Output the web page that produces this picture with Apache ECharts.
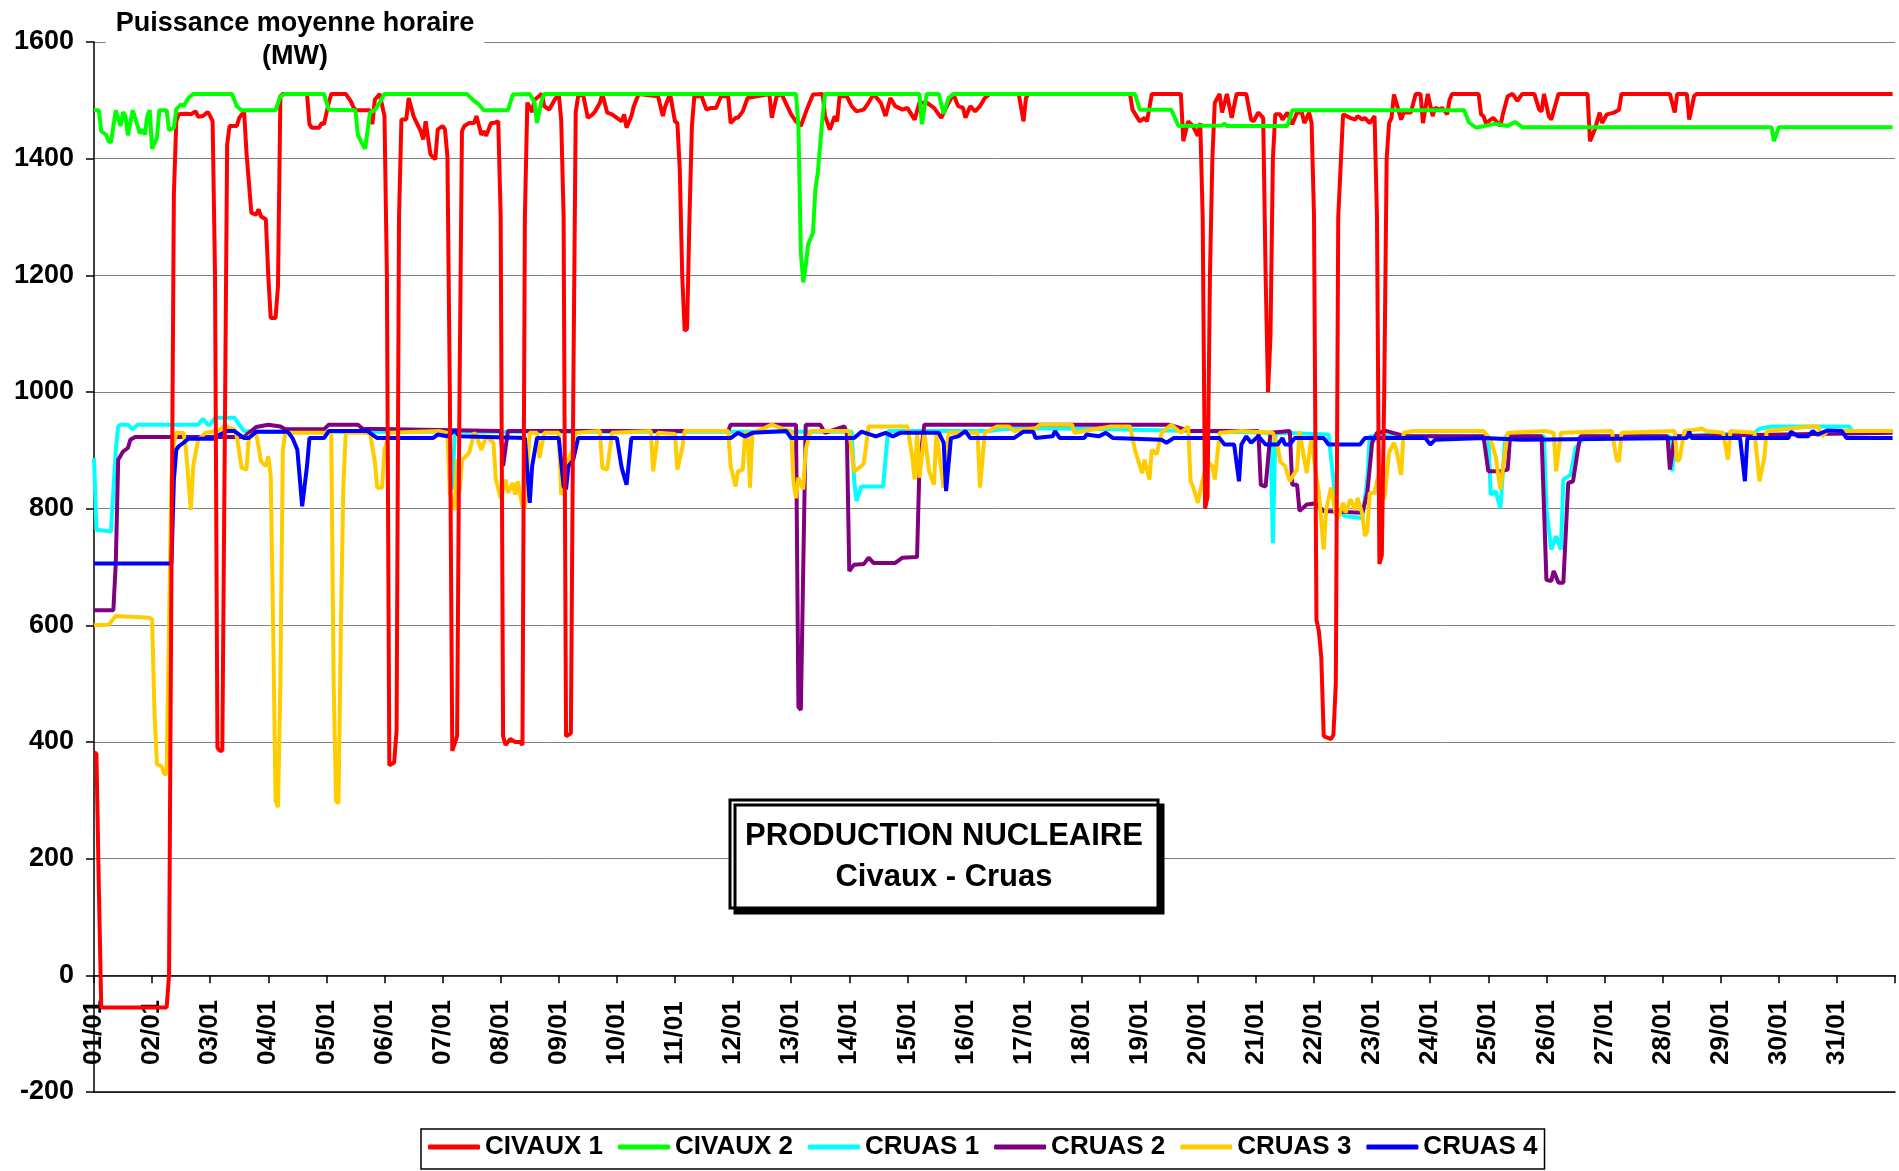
<!DOCTYPE html>
<html>
<head>
<meta charset="utf-8">
<script src="https://cdn.jsdelivr.net/npm/echarts@6/dist/echarts.min.js"></script>
<style>
html,body{margin:0;padding:0;background:#fff;}
#chart{width:1899px;height:1171px;}
</style>
</head>
<body>
<div id="chart"></div>
<script>
// Day labels (one per 24 hourly points)
const dayLabels = ['01/01','02/01','03/01','04/01','05/01','06/01','07/01','08/01','09/01','10/01',
  '11/01','12/01','13/01','14/01','15/01','16/01','17/01','18/01','19/01','20/01',
  '21/01','22/01','23/01','24/01','25/01','26/01','27/01','28/01','29/01','30/01','31/01'];

// [hour of month, MW] – readings at the points where the curves change
const civaux1 = [[0,382],[1,380],[2,150],[3,-55],[30,-55],[31,0],[32,700],[33,1340],[34,1464],[35,1476],[38,1477],[40,1476],[42,1481],[43,1472],[45,1473],[47,1480],[48,1473],[49,1464],[50,1200],[51,390],[52,385],[53,385],[54,900],[55,1424],[56,1456],[59,1456],[60,1470],[62,1481],[63,1410],[65,1307],[67,1304],[68,1313],[69,1301],[71,1296],[72,1199],[73,1127],[75,1127],[76,1181],[77,1507],[78,1511],[88,1511],[89,1459],[90,1453],[93,1453],[94,1461],[95,1459],[97,1496],[98,1511],[104,1511],[106,1499],[107,1490],[108,1483],[114,1483],[115,1459],[116,1501],[118,1511],[120,1473],[121,1200],[122,360],[124,365],[125,420],[126,1300],[127,1467],[129,1467],[130,1504],[132,1473],[133,1464],[135,1447],[136,1433],[137,1464],[139,1407],[141,1399],[142,1450],[144,1456],[145,1450],[146,1404],[147,1000],[148,385],[150,410],[151,1000],[152,1447],[153,1456],[155,1461],[157,1461],[158,1473],[160,1441],[161,1447],[162,1439],[164,1461],[165,1461],[167,1464],[168,1300],[169,410],[170,395],[172,405],[174,400],[176,400],[177,395],[178,1300],[179,1496],[181,1480],[182,1501],[185,1511],[186,1490],[188,1484],[190,1499],[192,1511],[193,1467],[194,1300],[195,410],[197,415],[198,1000],[199,1480],[200,1507],[202,1511],[204,1470],[206,1476],[207,1481],[209,1496],[210,1511],[212,1479],[214,1476],[216,1470],[218,1464],[219,1476],[220,1453],[222,1473],[223,1490],[225,1511],[233,1507],[235,1473],[236,1490],[238,1511],[240,1464],[241,1461],[242,1381],[243,1200],[244,1105],[245,1108],[246,1300],[247,1456],[248,1507],[251,1507],[253,1484],[255,1487],[257,1487],[259,1507],[262,1507],[263,1461],[265,1470],[266,1470],[268,1481],[270,1504],[279,1511],[280,1470],[282,1507],[284,1511],[288,1476],[290,1464],[292,1456],[294,1479],[295,1490],[297,1510],[301,1511],[302,1473],[304,1450],[306,1473],[307,1464],[308,1507],[311,1507],[313,1490],[315,1481],[318,1484],[320,1496],[322,1511],[325,1496],[327,1473],[329,1504],[331,1490],[334,1484],[336,1487],[339,1467],[341,1496],[344,1496],[347,1487],[350,1470],[352,1487],[355,1511],[357,1490],[359,1487],[360,1470],[362,1490],[364,1481],[366,1490],[368,1504],[370,1511],[382,1511],[384,1464],[385,1504],[386,1511],[428,1511],[429,1484],[432,1464],[434,1470],[435,1464],[437,1511],[449,1511],[450,1430],[452,1464],[454,1456],[456,1439],[457,1461],[458,1300],[459,800],[460,820],[461,1200],[462,1400],[463,1496],[465,1511],[466,1479],[468,1511],[470,1470],[472,1511],[476,1511],[478,1467],[479,1464],[481,1479],[483,1470],[484,1200],[485,1000],[486,1095],[487,1400],[488,1476],[490,1476],[491,1467],[493,1479],[495,1459],[497,1479],[499,1479],[500,1461],[502,1479],[503,1461],[504,1300],[505,610],[506,590],[507,545],[508,410],[511,405],[512,412],[513,500],[514,1300],[516,1476],[519,1470],[521,1467],[522,1473],[524,1467],[525,1470],[527,1461],[529,1473],[530,1300],[531,705],[532,720],[533,1000],[534,1400],[535,1461],[536,1470],[537,1510],[538,1496],[540,1467],[541,1479],[544,1479],[546,1511],[548,1511],[549,1461],[551,1511],[553,1473],[554,1487],[556,1484],[557,1487],[559,1476],[560,1501],[561,1511],[572,1511],[573,1476],[574,1473],[575,1461],[577,1467],[578,1470],[581,1456],[582,1476],[584,1507],[586,1511],[588,1499],[590,1511],[595,1511],[597,1484],[598,1481],[599,1511],[601,1473],[602,1467],[605,1511],[617,1511],[618,1430],[620,1450],[622,1479],[623,1461],[625,1476],[628,1479],[630,1484],[631,1511],[651,1511],[653,1479],[654,1511],[658,1511],[659,1467],[661,1507],[662,1511],[743,1511]];

const civaux2 = [[0,1483],[2,1483],[3,1447],[5,1441],[6,1430],[7,1428],[9,1483],[11,1456],[12,1480],[13,1473],[14,1440],[16,1483],[19,1443],[20,1450],[21,1441],[22,1472],[23,1483],[24,1417],[26,1436],[27,1483],[30,1483],[31,1449],[33,1453],[34,1485],[36,1493],[37,1490],[39,1504],[41,1511],[57,1511],[59,1490],[61,1483],[75,1483],[77,1507],[79,1511],[95,1511],[97,1484],[108,1483],[109,1441],[111,1424],[112,1417],[114,1479],[116,1483],[118,1496],[120,1511],[154,1511],[157,1499],[159,1493],[161,1483],[171,1483],[173,1510],[180,1511],[182,1496],[183,1461],[185,1501],[186,1511],[290,1511],[291,1456],[292,1239],[293,1188],[294,1216],[295,1253],[297,1273],[298,1347],[299,1376],[301,1473],[302,1511],[341,1511],[342,1459],[344,1511],[349,1511],[351,1477],[353,1504],[355,1511],[430,1511],[432,1484],[445,1484],[448,1456],[466,1457],[467,1460],[468,1456],[493,1456],[495,1483],[566,1483],[568,1462],[569,1459],[571,1453],[579,1460],[584,1456],[587,1463],[590,1454],[693,1454],[694,1430],[696,1454],[743,1454]];

const cruas1 = [[0,887],[1,764],[7,761],[9,900],[10,941],[11,944],[14,944],[16,936],[18,944],[43,944],[45,954],[47,944],[48,944],[50,956],[58,956],[60,944],[62,933],[70,932],[146,932],[147,880],[148,833],[149,925],[150,932],[313,932],[314,850],[315,813],[317,838],[326,838],[328,933],[370,933],[375,936],[390,938],[420,936],[486,930],[487,741],[488,925],[489,930],[510,927],[512,850],[513,798],[517,787],[524,784],[526,850],[527,924],[576,924],[577,824],[579,830],[581,801],[583,924],[599,924],[600,800],[602,730],[604,753],[606,730],[607,850],[610,858],[612,904],[616,924],[651,924],[652,864],[653,924],[686,930],[688,937],[693,941],[725,941],[727,930],[743,933]];

const cruas2 = [[0,626],[8,626],[9,707],[10,884],[12,898],[14,904],[15,918],[17,923],[62,923],[64,930],[67,940],[72,944],[77,941],[79,936],[95,936],[97,944],[109,944],[111,937],[168,933],[169,873],[171,933],[262,933],[263,944],[290,944],[291,460],[292,455],[293,700],[294,944],[300,944],[302,930],[310,941],[311,930],[312,693],[314,704],[318,705],[320,716],[322,707],[331,707],[334,716],[340,717],[341,873],[343,944],[444,944],[453,933],[481,933],[482,841],[484,838],[486,930],[494,933],[495,841],[497,841],[498,796],[501,807],[504,809],[506,804],[508,796],[524,793],[526,827],[528,913],[530,930],[534,933],[542,924],[574,924],[576,864],[581,864],[584,867],[585,924],[598,924],[600,678],[602,676],[603,693],[605,673],[607,673],[609,844],[611,847],[613,901],[614,924],[650,924],[651,867],[653,924],[743,930]];

const cruas3 = [[0,600],[6,601],[9,616],[23,613],[24,610],[25,450],[26,362],[28,358],[29,345],[30,345],[31,600],[32,850],[33,913],[34,930],[37,930],[38,901],[40,798],[41,873],[43,918],[46,930],[51,933],[54,941],[58,936],[59,924],[61,870],[63,867],[64,924],[67,930],[69,881],[71,873],[72,890],[73,856],[74,600],[75,300],[76,288],[77,500],[78,900],[79,930],[98,930],[99,500],[100,298],[101,295],[102,600],[103,838],[104,930],[114,930],[116,881],[117,836],[119,836],[120,901],[122,930],[143,933],[146,930],[147,827],[149,798],[150,884],[151,827],[152,884],[153,887],[155,896],[157,930],[158,925],[160,901],[162,924],[165,913],[166,850],[168,818],[170,850],[171,827],[173,844],[174,824],[175,847],[177,804],[178,801],[180,930],[183,930],[184,887],[186,930],[192,930],[193,824],[194,833],[196,884],[198,904],[199,930],[209,933],[210,870],[212,867],[214,930],[230,933],[231,864],[233,930],[240,928],[241,867],[243,904],[244,933],[262,933],[263,873],[265,838],[266,864],[268,867],[269,930],[270,930],[271,836],[272,930],[277,938],[280,944],[285,936],[288,933],[289,844],[290,818],[291,853],[293,833],[294,901],[296,933],[312,933],[314,864],[315,867],[317,873],[318,878],[320,941],[336,941],[338,890],[339,850],[340,930],[341,853],[343,930],[345,864],[347,841],[348,930],[351,836],[353,930],[365,930],[366,836],[368,930],[373,941],[378,941],[380,933],[389,938],[391,944],[404,944],[405,930],[420,941],[428,941],[430,901],[433,861],[434,884],[436,850],[437,901],[439,893],[441,930],[445,944],[449,930],[452,941],[453,847],[454,838],[456,810],[458,850],[460,881],[462,873],[463,850],[465,930],[474,933],[487,930],[489,907],[490,881],[492,873],[494,847],[496,861],[497,867],[498,933],[500,884],[501,861],[503,924],[504,884],[506,827],[508,730],[509,798],[511,836],[513,790],[514,784],[516,810],[517,793],[519,816],[521,798],[522,818],[524,790],[525,753],[526,761],[527,827],[529,827],[530,847],[532,876],[533,816],[535,896],[537,913],[538,901],[540,858],[541,930],[545,933],[574,933],[577,918],[579,890],[581,833],[582,867],[584,930],[600,933],[603,930],[604,864],[606,930],[627,933],[629,884],[630,881],[631,930],[653,933],[654,881],[655,885],[657,933],[663,936],[664,938],[666,933],[673,930],[675,884],[676,933],[686,930],[688,847],[690,887],[691,933],[709,941],[712,941],[714,924],[716,933],[743,933]];

const cruas4 = [[0,706],[32,706],[33,850],[34,901],[35,907],[37,913],[39,920],[50,920],[52,927],[55,933],[58,933],[62,921],[64,921],[67,932],[80,932],[82,921],[84,901],[86,804],[88,873],[89,921],[95,921],[97,933],[113,933],[117,921],[140,921],[142,927],[146,924],[149,934],[151,924],[178,921],[180,810],[181,873],[183,921],[192,921],[194,838],[195,833],[196,873],[198,884],[200,921],[216,921],[218,870],[220,841],[222,921],[263,921],[266,930],[269,924],[272,930],[286,933],[288,921],[314,921],[317,932],[323,924],[327,930],[330,924],[333,930],[349,930],[351,913],[352,830],[354,921],[357,924],[360,933],[362,921],[380,921],[384,932],[388,932],[389,921],[396,924],[397,933],[399,921],[409,921],[410,927],[415,924],[418,930],[421,921],[441,918],[443,913],[446,921],[465,921],[467,910],[471,910],[473,847],[474,910],[476,924],[478,913],[481,924],[484,910],[489,910],[491,921],[492,910],[494,910],[496,921],[508,921],[510,910],[523,910],[525,921],[550,921],[552,910],[554,918],[574,921],[590,918],[658,921],[659,932],[660,921],[680,921],[682,847],[683,921],[700,921],[701,932],[704,924],[708,924],[710,933],[712,927],[716,934],[722,933],[724,921],[743,921]];

const seriesNames = ['CIVAUX 1','CIVAUX 2','CRUAS 1','CRUAS 2','CRUAS 3','CRUAS 4'];
const seriesColors = ['#FF0000','#00FF00','#00FFFF','#800080','#FFCC00','#0000FF'];
const seriesData = [civaux1, civaux2, cruas1, cruas2, cruas3, cruas4];
// drawing order: Cruas first, Civaux on top (Civaux 2 above Civaux 1)
const drawOrder = [2,3,4,5,0,1];

const FONT = '"Liberation Sans", Arial, sans-serif';
const chart = echarts.init(document.getElementById('chart'), null, {renderer:'canvas'});

const series = drawOrder.map(i => ({
  name: seriesNames[i],
  type: 'line',
  xAxisIndex: 0,
  data: seriesData[i],
  showSymbol: false,
  symbol: 'none',
  lineStyle: {width: 4, color: seriesColors[i]},
  itemStyle: {color: seriesColors[i]},
  emphasis: {disabled: true},
  animation: false
}));

chart.setOption({
  backgroundColor: '#ffffff',
  animation: false,
  title: {
    text: 'Puissance moyenne horaire\n(MW)',
    left: 285, top: 7, textAlign: 'center',
    backgroundColor: '#ffffff',
    padding: [0, 10, 0, 10],
    textStyle: {fontFamily: FONT, fontWeight: 'bold', fontSize: 27, lineHeight: 33, color: '#000'}
  },
  legend: {
    data: seriesNames.map(n => ({name: n, icon: 'roundRect'})),
    left: 421, top: 1129,
    itemWidth: 52, itemHeight: 5, itemGap: 15,
    borderColor: '#000', borderWidth: 1.5,
    padding: [5, 7, 9, 7],
    textStyle: {fontFamily: FONT, fontWeight: 'bold', fontSize: 26, color: '#000'}
  },
  grid: {left: 94, right: 4, top: 42, bottom: 79, containLabel: false},
  xAxis: [
    { // day labels, drawn inside the plot between 0 and -200
      type: 'value', min: 0, max: 744, interval: 24, position: 'bottom',
      axisLine: {onZero: false, show: true, lineStyle: {color: '#000', width: 1.5}},
      axisTick: {show: false},
      axisLabel: {
        inside: true, rotate: 90, margin: 27, color: '#000',
        fontFamily: FONT, fontWeight: 'bold', fontSize: 26,
        formatter: v => dayLabels[Math.round(v / 24)] || ''
      },
      splitLine: {show: false}
    },
    { // axis line and ticks on the zero level
      type: 'value', min: 0, max: 744, interval: 24, position: 'bottom',
      axisLine: {onZero: true, show: true, lineStyle: {color: '#000', width: 1.5}},
      axisTick: {show: true, length: 8, lineStyle: {color: '#000', width: 1.5}},
      axisLabel: {show: false},
      splitLine: {show: false}
    }
  ],
  yAxis: {
    type: 'value', min: -200, max: 1600, interval: 200,
    axisLine: {show: true, onZero: false, lineStyle: {color: '#000', width: 1.5}},
    axisTick: {show: true, length: 8, lineStyle: {color: '#000', width: 1.5}},
    axisLabel: {margin: 20, color: '#000', fontFamily: FONT, fontWeight: 'bold', fontSize: 27,
                formatter: v => String(v)},
    splitLine: {show: true, lineStyle: {color: '#808080', width: 1}}
  },
  graphic: [
    {type: 'rect', z: 100, shape: {x: 730, y: 800, width: 428, height: 108},
     style: {fill: '#fff', stroke: '#000', lineWidth: 3, shadowColor: '#000', shadowOffsetX: 5, shadowOffsetY: 5, shadowBlur: 0}},
    {type: 'text', z: 101, x: 944, y: 857,
     style: {text: 'PRODUCTION NUCLEAIRE\nCivaux - Cruas', align: 'center', verticalAlign: 'middle',
             font: 'bold 31px "Liberation Sans", Arial, sans-serif', lineHeight: 41, fill: '#000'}}
  ],
  series: series
});
</script>
</body>
</html>
